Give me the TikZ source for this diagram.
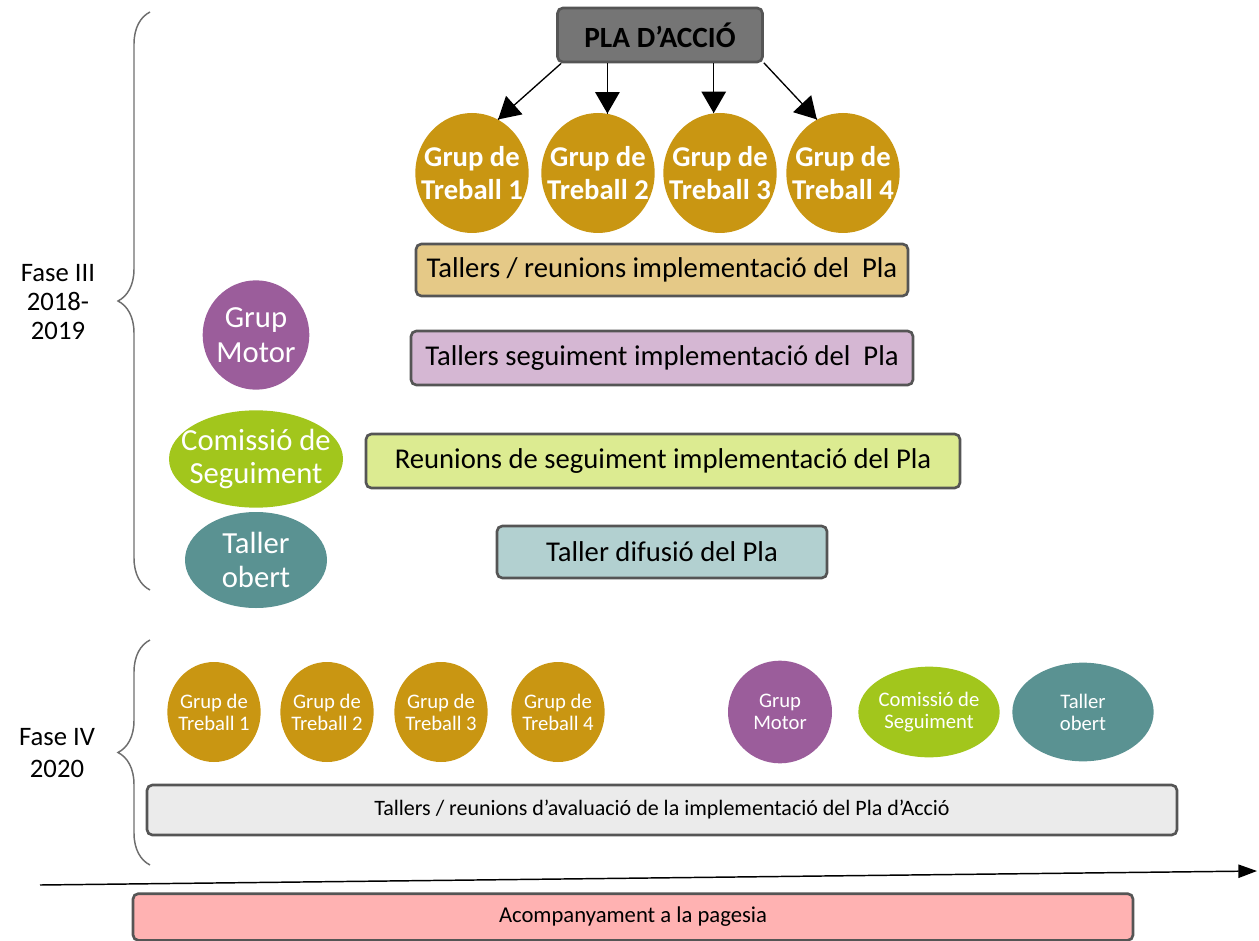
\documentclass[tikz,border=0pt]{standalone}
\usepackage{fontspec}
\setmainfont{Carlito}
\usetikzlibrary{arrows}
\usetikzlibrary{arrows.meta}
\usetikzlibrary{decorations.markings}
\usetikzlibrary{decorations.pathreplacing}
\usetikzlibrary{shapes.geometric}
\usetikzlibrary{positioning}
\definecolor{gold}{RGB}{201,150,18}
\definecolor{motor}{RGB}{155,93,155}
\definecolor{lime}{RGB}{162,198,28}
\definecolor{teal}{RGB}{90,146,146}
\definecolor{tan}{RGB}{229,201,135}
\definecolor{lilac}{RGB}{213,183,211}
\definecolor{pale}{RGB}{220,235,145}
\definecolor{sea}{RGB}{178,208,208}
\definecolor{mist}{RGB}{235,235,235}
\definecolor{rose}{RGB}{255,178,178}
\definecolor{edge}{RGB}{85,85,85}
\tikzset{->/.style = {decoration={markings,
                                  mark=at position 1 with {\arrow[scale=2.2]{triangle 60}}},
                      postaction={decorate}}}
\tikzset{bar/.style = {draw=edge, line width=2pt, rounded corners=4pt, inner sep=0, text=black}}
\tikzset{grp/.style = {ellipse, inner sep=-30pt, text=white, align=center}}

\begin{document}
\begin{tikzpicture}[x=0.75pt, y=-0.75pt]
      \useasboundingbox (0, 0) rectangle (1259, 941);
      % Fase III
      \node [align=center, font=\fontsize{20}{22}\selectfont] (f3) at (58, 302) {Fase III\\2018-\\2019};
      \draw [decorate, decoration={brace, amplitude=24pt}, draw=edge!85, line width=1.1pt] (150, 590) -- (150, 12);
      \node [bar, fill=gray!92!black, minimum width=153.75pt, minimum height=40.5pt, font=\bfseries\fontsize{22}{24}\selectfont] (pla) at (660, 35) {PLA D’ACCIÓ};
      \node [grp, fill=gold, minimum width=85pt, minimum height=90pt, font=\bfseries\fontsize{21.5}{25}\selectfont] (g1) at (472, 173) {Grup de\\Treball 1};
      \node [grp, fill=gold, minimum width=85pt, minimum height=90pt, font=\bfseries\fontsize{21.5}{25}\selectfont] (g2) at (598, 173) {Grup de\\Treball 2};
      \node [grp, fill=gold, minimum width=85pt, minimum height=90pt, font=\bfseries\fontsize{21.5}{25}\selectfont] (g3) at (720, 173) {Grup de\\Treball 3};
      \node [grp, fill=gold, minimum width=85pt, minimum height=90pt, font=\bfseries\fontsize{21.5}{25}\selectfont] (g4) at (843, 173) {Grup de\\Treball 4};
      \draw [->, line width=1pt] (pla.196) -- (g1.64);
      \draw [->, line width=1pt] (pla.south -| g2.81) -- (g2.81);
      \draw [->, line width=1pt] (pla.south -| g3.96) -- (g3.96);
      \draw [->, line width=1pt] (pla.345) -- (g4.116);
      \node [bar, fill=tan, minimum width=369pt, minimum height=39pt, font=\fontsize{21.5}{24}\selectfont] (t1) at (662, 270) {Tallers / reunions implementació del\ \ Pla};
      \node [grp, fill=motor, minimum width=80pt, minimum height=82pt, font=\fontsize{23}{26}\selectfont] (m) at (256, 335) {Grup\\Motor};
      \node [bar, fill=lilac, minimum width=376.5pt, minimum height=40.5pt, font=\fontsize{21.5}{24}\selectfont] (t2) at (662, 358) {Tallers seguiment implementació del\ \ Pla};
      \node [grp, fill=lime, minimum width=130.5pt, minimum height=73pt, font=\fontsize{23}{25}\selectfont] (c) at (256, 459) {Comissió de\\Seguiment};
      \node [bar, fill=pale, minimum width=445.5pt, minimum height=40.5pt, font=\fontsize{21.5}{24}\selectfont] (t3) at (663, 461) {Reunions de seguiment implementació del Pla};
      \node [grp, fill=teal, minimum width=106.5pt, minimum height=72pt, font=\fontsize{23}{26}\selectfont] (o) at (256, 560) {Taller\\obert};
      \node [bar, fill=sea, minimum width=247.5pt, minimum height=39pt, font=\fontsize{21.5}{24}\selectfont] (t4) at (662, 552) {Taller difusió del Pla};
      % Fase IV
      \node [align=center, font=\fontsize{20}{24}\selectfont] (f4) at (57, 753) {Fase IV\\2020};
      \draw [decorate, decoration={brace, amplitude=24pt}, draw=edge!85, line width=1.1pt] (150, 865) -- (150, 640);
      \node [grp, fill=gold, minimum width=70pt, minimum height=75pt, font=\fontsize{15.5}{16.5}\selectfont] (h1) at (214, 712) {Grup de\\Treball 1};
      \node [grp, fill=gold, minimum width=70pt, minimum height=75pt, font=\fontsize{15.5}{16.5}\selectfont] (h2) at (327, 712) {Grup de\\Treball 2};
      \node [grp, fill=gold, minimum width=70pt, minimum height=75pt, font=\fontsize{15.5}{16.5}\selectfont] (h3) at (441, 712) {Grup de\\Treball 3};
      \node [grp, fill=gold, minimum width=70pt, minimum height=75pt, font=\fontsize{15.5}{16.5}\selectfont] (h4) at (558, 712) {Grup de\\Treball 4};
      \node [grp, fill=motor, minimum width=78pt, minimum height=77pt, font=\fontsize{15.5}{16.5}\selectfont] (m2) at (780, 712) {Grup\\Motor};
      \node [grp, fill=lime, minimum width=106pt, minimum height=68pt, font=\fontsize{15.5}{16.5}\selectfont] (c2) at (929, 712) {Comissió de\\Seguiment};
      \node [grp, fill=teal, minimum width=106pt, minimum height=74pt, font=\fontsize{15.5}{16.5}\selectfont] (o2) at (1083, 712) {Taller\\obert};
      \node [bar, fill=mist, minimum width=772.5pt, minimum height=37.5pt, font=\fontsize{16.5}{18}\selectfont] (t5) at (662, 810) {Tallers / reunions d’avaluació de la implementació del Pla d’Acció};
      % eix del temps
      \coordinate (ts) at (40, 885);
      \coordinate (te) at (1257, 871);
      \draw [-{Triangle[length=14pt, width=10pt]}, line width=1.1pt] (ts) -- (te);
      \node [bar, fill=rose, minimum width=750pt, minimum height=35pt, font=\fontsize{17}{19}\selectfont] (t6) at (633, 917) {Acompanyament a la pagesia};
    \end{tikzpicture}
\end{document}
